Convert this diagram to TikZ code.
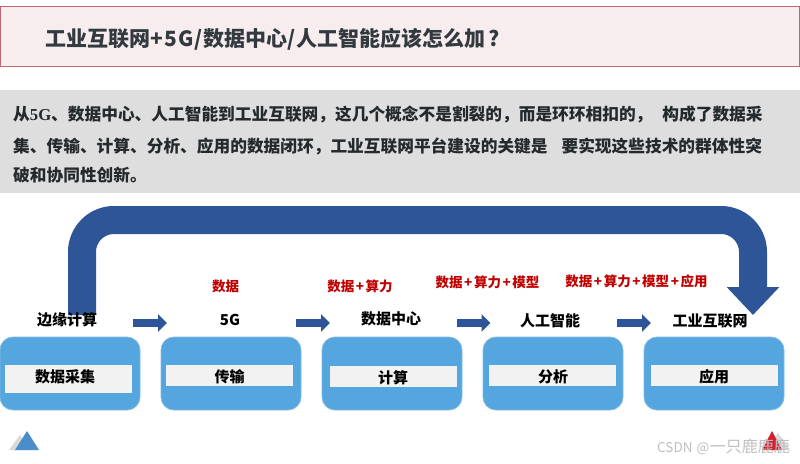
\documentclass[tikz,border=0pt]{standalone}
\usepackage{fontspec}
\setmainfont{Noto Sans CJK SC}
\newfontfamily\serifb{Liberation Serif}
\usetikzlibrary{arrows.meta}
\definecolor{navy}{HTML}{2E5597}
\definecolor{sky}{HTML}{55A5DE}
\definecolor{pale}{HTML}{F2F2F2}
\definecolor{ink}{HTML}{333A3F}
\definecolor{redtxt}{HTML}{C00000}
\definecolor{markred}{HTML}{D4202E}
\definecolor{titleedge}{HTML}{C0686E}
\definecolor{titlefill}{HTML}{F7EDEE}
\definecolor{bandfill}{HTML}{DEDEDE}
\newcommand{\redplus}{\kern1.6pt+\kern1.6pt}
\tikzset{
  block/.style={draw=sky!75!white,line width=.8pt,fill=sky,rounded corners=13pt,minimum width=140pt,minimum height=73pt,inner sep=0pt},
  inbar/.style={fill=pale,draw=none,minimum width=127pt,inner sep=0pt},
  bartext/.style={font=\bfseries\fontsize{15}{15}\selectfont,text=black,inner sep=0pt},
  toplabel/.style={font=\bfseries\fontsize{15}{15}\selectfont,text=black,inner sep=0pt},
  redlabel/.style={font=\bfseries\fontsize{13.5}{14}\selectfont,text=redtxt,inner sep=0pt},
  flow/.style={draw=navy,line width=8pt,-{Triangle[length=9pt,width=17pt]}},
  bigflow/.style={draw=navy,line width=28pt,rounded corners=32pt,-{Triangle[length=28pt,width=51pt]}},
  body/.style={anchor=west,inner sep=0pt,font=\bfseries\fontsize{16.7}{17}\selectfont,text=ink!70!black}
}
\begin{document}
\begin{tikzpicture}[x=1pt,y=-1pt]
\useasboundingbox (0,0) rectangle (800,463);
\fill[white] (0,0) rectangle (800,463);
% title
\node[draw=titleedge,line width=.8pt,fill=titlefill,minimum width=798.5pt,minimum height=60pt,inner sep=0pt] (titlebox) at (399.8,36) {};
\node[anchor=west,inner sep=0pt,font=\bfseries\fontsize{21}{21}\selectfont,text=ink] (title) at (45,39) {工业互联网\kern.8pt+\kern.8pt5\kern.8pt G\kern.8pt/\kern1pt 数据中心\kern.5pt/\kern.5pt 人工智能应该怎么加\kern2.5pt ?};
% band
\node[fill=bandfill,minimum width=800pt,minimum height=103pt,inner sep=0pt] (band) at (400,141.5) {};
\node[body] (l1) at (13,115) {从{\serifb\bfseries 5G}、数据中心、人工智能到工业互联网，这几个概念不是割裂的，而是环环相扣的，\kern10pt 构成了数据采};
\node[body] (l2) at (13,146) {集、传输、计算、分析、应用的数据闭环，工业互联网平台建设的关键是\kern14pt 要实现这些技术的群体性突};
\node[body] (l3) at (13,175) {破和协同性创新。};
% blocks
\node[block] (b1) at (70,373.5) {};
\node[block] (b2) at (231,373.5) {};
\node[block] (b3) at (392,373.5) {};
\node[block] (b4) at (553,373.5) {};
\node[block] (b5) at (714,373.5) {};
\node[inbar,minimum height=28pt] (i1) at (68.5,379) {};
\node[inbar,minimum height=21pt] (i2) at (229.5,375.5) {};
\node[inbar,minimum height=21pt] (i3) at (393,376.5) {};
\node[inbar,minimum height=21pt] (i4) at (552.5,375.5) {};
\node[inbar,minimum height=21pt] (i5) at (714.5,375.5) {};
\node[bartext] (x1) at (65,377) {数据采集};
\node[bartext] (x2) at (229.5,377) {传输};
\node[bartext] (x3) at (393,378) {计算};
\node[bartext] (x4) at (553,377) {分析};
\node[bartext] (x5) at (714,377) {应用};
% big arrow
\coordinate (bs) at (82,315);
\coordinate (bc1) at (82,220);
\coordinate (bc2) at (753,220);
\coordinate (be) at (753,315);
\draw[bigflow] (bs) -- (bc1) -- (bc2) -- (be);
% labels
\node[toplabel] (t1) at (67,320) {边缘计算};
\node[toplabel] (t2) at (230,320) {5G};
\node[toplabel] (t3) at (391,319) {数据中心};
\node[toplabel] (t4) at (550,321) {人工智能};
\node[toplabel] (t5) at (710,321) {工业互联网};
\node[redlabel] (r2) at (225.5,286) {数据};
\node[redlabel] (r3) at (360,286) {数据\redplus 算力};
\node[redlabel] (r4) at (487.5,282) {数据\redplus 算力\redplus 模型};
\node[redlabel] (r5) at (636.5,281) {数据\redplus 算力\redplus 模型\redplus 应用};
% small arrows
\coordinate (a1s) at (133,323); \coordinate (a1e) at (167,323);
\coordinate (a2s) at (296,323); \coordinate (a2e) at (330,323);
\coordinate (a3s) at (457,323); \coordinate (a3e) at (490.5,323);
\coordinate (a4s) at (617,323); \coordinate (a4e) at (651,323);
\draw[flow] (a1s) -- (a1e);
\draw[flow] (a2s) -- (a2e);
\draw[flow] (a3s) -- (a3e);
\draw[flow] (a4s) -- (a4e);
% corner marks
\fill[gray!30] (9,450) -- (20,435) -- (30,450) -- cycle;
\fill[sky!70!navy] (15,450) -- (27,431) -- (39,450) -- cycle;
\fill[gray!30] (766,450) -- (778,433) -- (790,450) -- cycle;
\fill[markred] (762,450) -- (772,431) -- (782,450) -- cycle;
% watermark
\node[anchor=west,inner sep=0pt,text=gray!50] (wm) at (657,447) {\fontsize{13.5}{14}\selectfont CSDN\kern4pt @\kern.5pt\fontsize{16}{16}\selectfont 一只鹿鹿鹿};
\end{tikzpicture}
\end{document}
